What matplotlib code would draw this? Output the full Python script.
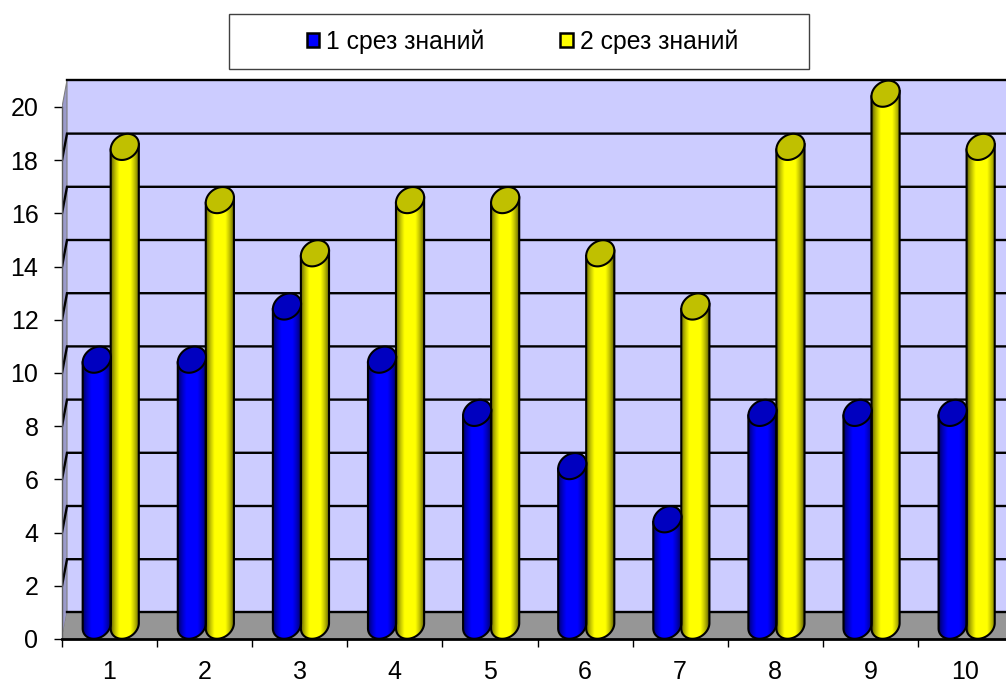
import numpy as np
import matplotlib
matplotlib.use("Agg")
import matplotlib.pyplot as plt
from matplotlib.patches import Polygon, Rectangle, PathPatch, Patch
from matplotlib.path import Path

categories = [str(i) for i in range(1, 11)]
series1_name = "1 срез знаний"
series2_name = "2 срез знаний"
series1 = [10, 10, 12, 10, 8, 6, 4, 8, 8, 8]
series2 = [18, 16, 14, 16, 16, 14, 12, 18, 20, 18]
y_ticks = list(range(0, 21, 2))

W, H = 1006, 682
plt.rcParams['font.family'] = ['Liberation Sans', 'DejaVu Sans']
fig = plt.figure(figsize=(W / 100, H / 100), dpi=100)
fig.patch.set_facecolor('white')

L, R, B, T = 62, 1006, 639, 79.6
ax = fig.add_axes([L / W, 1 - B / H, (R - L) / W, (B - T) / H])
px_x = 95.1
px_y = 26.6
xmax = (R - L) / px_x
ymax = (B - T) / px_y
ax.set_xlim(0, xmax)
ax.set_ylim(0, ymax)
ax.set_facecolor('none')

dx = 5.0 / px_x       # depth offset in x
dy = 1.0              # depth offset in y

# walls and floor
ax.add_patch(Rectangle((dx, dy), xmax, 20, fc='#CCCCFF', ec='none', zorder=1))
ax.add_patch(Polygon([(0, 0), (dx, dy), (dx, 20 + dy), (0, 20)], closed=True,
                     fc='#9A9ACB', ec='#808080', lw=0.8, zorder=1))
ax.add_patch(Polygon([(0, 0), (xmax + dx, 0), (xmax + dx, dy), (dx, dy)], closed=True,
                     fc='#969696', ec='none', zorder=1))
for v in y_ticks:
    if 0 < v < 20:
        ax.plot([0, dx, xmax + dx], [v, v + dy, v + dy], color='black', lw=1.7,
                solid_joinstyle='miter', zorder=2)
    else:
        ax.plot([dx, xmax + dx], [v + dy, v + dy], color='black', lw=1.7,
                zorder=2, clip_on=False)


def shade(base):
    """horizontal gradient across a cylinder"""
    base = np.array(base, float)
    t = np.linspace(0, 1, 60)
    f = 1 - np.abs(t - 0.5) / 0.5
    k = 0.35 + 0.65 * np.clip(f / 0.6, 0, 1) ** 0.7
    row = k[:, None] * base[None, :]
    return np.stack([row, row], axis=0)


half = 14.0 / px_x
shift = 1.2 / px_x
# tilted cap shape, in pixels
cap_a, cap_b, cap_tilt = 15.0, 12.0, np.radians(35)
_t = np.linspace(0, 2 * np.pi, 241)[:-1]
_ex = (cap_a * np.cos(_t) * np.cos(cap_tilt) - cap_b * np.sin(_t) * np.sin(cap_tilt)) / px_x
_ey = (cap_a * np.cos(_t) * np.sin(cap_tilt) + cap_b * np.sin(_t) * np.cos(cap_tilt)) / px_y
_il, _ir = int(np.argmin(_ex)), int(np.argmax(_ex))


def lower_arc():
    """points from the leftmost to the rightmost point, along the underside"""
    idx = np.arange(_il, _il + 240) % 240
    idx = idx[: int(np.where(idx == _ir)[0][0]) + 1]
    return _ex[idx], _ey[idx]


def cylinder(cx, value, body, top):
    cy = value + 0.5
    ax_, ay_ = lower_arc()
    low = np.column_stack([cx + ax_, 0.5 + ay_])
    up = np.array([[cx + _ex[_ir], cy + _ey[_ir]], [cx + _ex[_il], cy + _ey[_il]]])
    pts = np.vstack([low, up, low[:1]])
    path = Path(pts)
    im = ax.imshow(shade(body), extent=[cx - half, cx + half, 0, cy + 1],
                   aspect='auto', zorder=3, interpolation='bilinear')
    patch = PathPatch(path, transform=ax.transData, fc='none', ec='none')
    ax.add_patch(patch)
    im.set_clip_path(patch)
    ax.add_patch(PathPatch(path, fc='none', ec='black', lw=1.5, zorder=3.1))
    ax.add_patch(Polygon(np.column_stack([cx + _ex, cy + _ey]), closed=True,
                         fc=top, ec='black', lw=1.5, zorder=3.2))


blue = (0, 0, 1)
yellow = (1, 1, 0)
for i in range(len(categories)):
    c = i + 0.5 + shift
    cylinder(c - half, series1[i], blue, '#0000C0')
    cylinder(c + half, series2[i], yellow, '#C0C000')

ax.set_xlim(0, xmax)
ax.set_ylim(0, ymax)

# axes
for s in ('top', 'right'):
    ax.spines[s].set_visible(False)
ax.spines['left'].set_bounds(0, 20)
ax.spines['left'].set_color('#606060')
ax.spines['left'].set_linewidth(1.0)
ax.spines['bottom'].set_linewidth(2.0)
ax.spines['left'].set_zorder(5)
ax.spines['bottom'].set_zorder(5)

ax.set_yticks(y_ticks)
ax.set_yticklabels([str(v) for v in y_ticks], fontsize=18)
ax.tick_params(axis='y', length=6, width=1.0, pad=11, color='black')
ax.set_xticks(np.arange(0, 10))
ax.set_xticklabels([])
ax.set_xticks(np.arange(10) + 0.5, minor=True)
ax.set_xticklabels(categories, minor=True, fontsize=18)
ax.tick_params(axis='x', which='major', length=6, width=1.0)
ax.tick_params(axis='x', which='minor', length=0, pad=15)

# legend
fig.add_artist(Rectangle((228.5 / W, 1 - 68.5 / H), 580 / W, 54.5 / H,
                         transform=fig.transFigure, fc='white', ec='#404040', lw=1.0))
handles = [Patch(fc='#0000FF', ec='black', lw=1.8, label=series1_name),
           Patch(fc='#FFFF00', ec='black', lw=1.8, label=series2_name)]
fig.legend(handles=handles, ncol=2, frameon=False, fontsize=17.8,
           loc='center', bbox_to_anchor=(522.5 / W, 1 - 41.5 / H),
           handlelength=0.5, handleheight=0.5, handletextpad=0.3,
           columnspacing=3.05, borderpad=0, borderaxespad=0)

fig.savefig('out.png', dpi=100)
